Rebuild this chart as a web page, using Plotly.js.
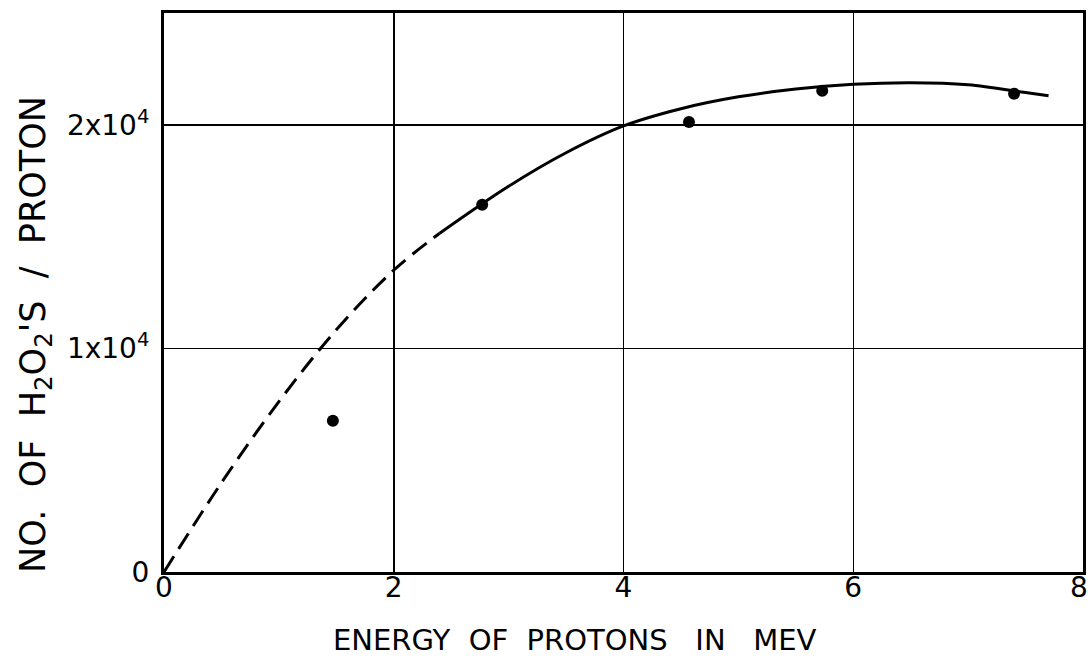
<!DOCTYPE html>
<html>
<head>
<meta charset="utf-8">
<script src="https://cdn.plot.ly/plotly-3.0.1.min.js"></script>
<style>html,body{margin:0;padding:0;background:#fff;}#chart{width:1090px;height:668px;}</style>
</head>
<body>
<div id="chart"></div>
<script>
// Measured points
const pointEnergy = [1.47, 2.77, 4.57, 5.73, 7.40];
const pointYield = [6760, 16420, 20130, 21520, 21390];

// Fitted curve, dashed (extrapolated) part
const dashEnergy = [0, 0.5, 1.0, 1.5, 2.0, 2.4];
const dashYield = [0, 3990, 7620, 10830, 13500, 15150];

// Fitted curve, solid part
const solidEnergy = [2.4, 3.0, 3.5, 4.0, 4.5, 5.0, 5.5, 6.0, 6.5, 7.0, 7.5, 7.7];
const solidYield = [15150, 17250, 18750, 19950, 20720, 21250, 21600, 21810, 21880, 21790, 21440, 21300];

const xTickVals = [0, 2, 4, 6, 8];
const xTickText = ['0', '2', '4', '6', '8'];
const yTickVals = [0, 10000, 20000];
const yTickText = ['0', '1x10<sup>4</sup>', '2x10<sup>4</sup>'];

const xTitle = 'ENERGY  OF  PROTONS   IN   MEV';
const yTitle = "NO.  OF  H<sub>2</sub>O<sub>2</sub>'S  /  PROTON";

const traces = [
  {x: dashEnergy, y: dashYield, mode: 'lines', line: {color: '#000', width: 3, dash: '18px,9px', shape: 'spline', smoothing: 1}, hoverinfo: 'skip'},
  {x: solidEnergy, y: solidYield, mode: 'lines', line: {color: '#000', width: 3, shape: 'spline', smoothing: 1}, hoverinfo: 'skip'},
  {x: pointEnergy, y: pointYield, mode: 'markers', marker: {color: '#000', size: 12}}
];

const fontFam = 'DejaVu Sans, Arial, sans-serif';
const lastIdx = xTickVals.length - 1;
const layout = {
  width: 1090, height: 668,
  margin: {l: 164, r: 7, t: 13, b: 96},
  paper_bgcolor: '#fff', plot_bgcolor: '#fff',
  showlegend: false,
  font: {family: fontFam, color: '#000'},
  xaxis: {
    range: [0, 8], tickvals: xTickVals,
    ticktext: xTickText.map((t, i) => i === lastIdx ? '' : t),
    showgrid: true, gridcolor: '#000', gridwidth: 1.5,
    showline: true, linecolor: '#000', linewidth: 3, mirror: true,
    zeroline: false, ticks: '', ticklen: 0,
    ticklabelstandoff: -12,
    tickfont: {size: 28, family: fontFam}
  },
  yaxis: {
    range: [0, 25000], tickvals: yTickVals, ticktext: yTickText,
    showgrid: true, gridcolor: '#000', gridwidth: 1.5,
    showline: true, linecolor: '#000', linewidth: 3, mirror: true,
    zeroline: false, ticks: '', ticklen: 0,
    ticklabelstandoff: 6,
    tickfont: {size: 28, family: fontFam}
  },
  annotations: [
    {text: xTickText[lastIdx], xref: 'x', yref: 'paper', x: xTickVals[lastIdx], y: 0,
     xanchor: 'right', yanchor: 'top', xshift: 7, yshift: 3, showarrow: false,
     font: {size: 28, family: fontFam, color: '#000'}},
    {text: xTitle, xref: 'paper', yref: 'paper', x: 0.447, y: 0, yshift: -68,
     xanchor: 'center', yanchor: 'middle', showarrow: false,
     font: {size: 29, family: fontFam, color: '#000'}},
    {text: yTitle, xref: 'paper', yref: 'paper', x: 0, xshift: -128, y: 0.424,
     xanchor: 'center', yanchor: 'middle', textangle: -90, showarrow: false,
     font: {size: 35, family: fontFam, color: '#000'}}
  ]
};

Plotly.newPlot('chart', traces, layout, {displayModeBar: false, staticPlot: true});
</script>
</body>
</html>
